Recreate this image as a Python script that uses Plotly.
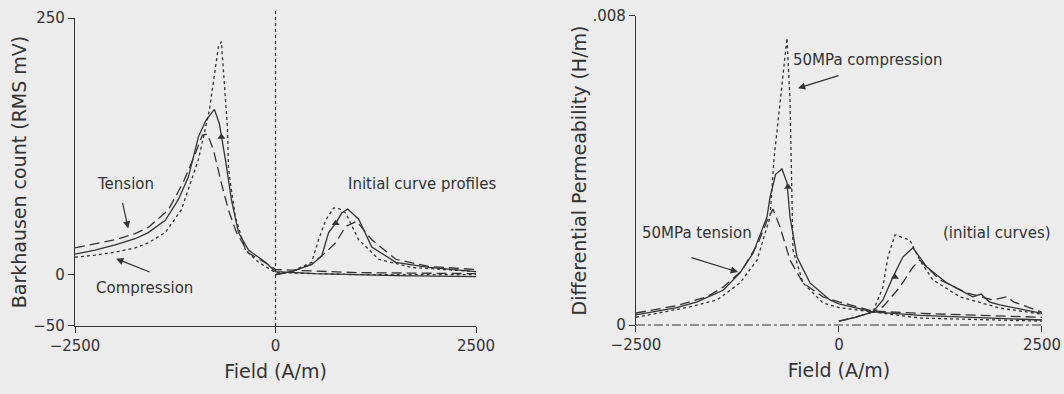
import plotly.graph_objects as go

# ---- left panel: Barkhausen count (RMS mV) vs field (A/m) ----
# main (descending) branches
bk_sol_x = [-2500, -2250, -2000, -1750, -1587, -1375, -1212, -1087, -962, -870, -762, -700, -625, -550, -462, -337, -125, 0, 500, 1000, 1500, 2500]
bk_sol_y = [20, 24, 29, 35, 41, 53, 73, 95, 134, 150, 161, 147, 112, 73, 41, 24, 12, 3, 1, 0, -1, -2]
bk_dsh_x = [-2500, -2250, -2000, -1750, -1587, -1337, -1150, -1000, -912, -850, -775, -675, -587, -487, -337, -50, 0, 1000, 2500]
bk_dsh_y = [26, 30, 34, 40, 46, 63, 90, 118, 136, 137, 122, 89, 63, 41, 21, 8, 5, 2, 1]
bk_dot_x = [-2500, -2250, -2000, -1750, -1587, -1375, -1175, -1000, -962, -825, -712, -675, -600, -587, -562, -500, -375, -212, 0, 1000, 2500]
bk_dot_y = [17, 19, 22, 26, 31, 41, 63, 105, 112, 160, 222, 227, 144, 105, 89, 56, 24, 12, 2, 0, 0]
# initial curves
bk_ini_sol_x = [0, 200, 450, 575, 662, 750, 825, 900, 1037, 1200, 1500, 1912, 2500]
bk_ini_sol_y = [0, 3, 10, 18, 41, 50, 60, 64, 54, 27, 12, 7, 3]
bk_ini_dsh_x = [0, 200, 450, 600, 750, 875, 1012, 1200, 1500, 1912, 2500]
bk_ini_dsh_y = [0, 3, 10, 20, 31, 47, 52, 34, 15, 8, 5]
bk_ini_dot_x = [0, 200, 450, 537, 625, 725, 800, 875, 1037, 1287, 1700, 2500]
bk_ini_dot_y = [0, 3, 12, 34, 53, 65, 64, 60, 34, 15, 7, 3]
bk_arrow_x = [-675, 750]
bk_arrow_y = [134, 50]

# ---- right panel: differential permeability (H/m) vs field (A/m) ----
mu_sol_x = [-2500, -2000, -1747, -1427, -1218, -1058, -886, -850, -780, -702, -640, -603, -517, -357, -111, 0, 418, 1000, 2500]
mu_sol_y = [0.00026, 0.00045, 0.0006, 0.0009, 0.00135, 0.00186, 0.0028, 0.0033, 0.0039, 0.00404, 0.00368, 0.0028, 0.00176, 0.00109, 0.00065, 0.00055, 0.00034, 0.00025, 0.00013]
mu_dsh_x = [-2500, -2000, -1624, -1427, -1200, -1000, -886, -812, -726, -603, -443, -197, 0, 418, 1000, 2500]
mu_dsh_y = [0.00031, 0.0005, 0.00073, 0.00098, 0.0014, 0.0021, 0.0027, 0.003, 0.00254, 0.00168, 0.00109, 0.00073, 0.0006, 0.00036, 0.0003, 0.0002]
mu_dot_x = [-2500, -1833, -1501, -1218, -1009, -849, -800, -726, -640, -603, -590, -575, -566, -443, -197, 0, 418, 1000, 2500]
mu_dot_y = [0.0002, 0.00047, 0.00065, 0.00109, 0.00168, 0.0028, 0.0043, 0.00583, 0.00743, 0.00583, 0.0042, 0.0028, 0.00194, 0.00109, 0.00057, 0.00045, 0.00034, 0.00018, 0.0001]
mu_ini_sol_x = [0, 200, 418, 541, 664, 787, 910, 1082, 1328, 1648, 1750, 1850, 1980, 2500]
mu_ini_sol_y = [0.0001, 0.0002, 0.00034, 0.00065, 0.00124, 0.00176, 0.002, 0.0015, 0.00109, 0.00073, 0.0008, 0.0006, 0.00052, 0.0003]
mu_ini_dsh_x = [0, 200, 418, 541, 750, 910, 996, 1242, 1574, 1894, 2066, 2150, 2500]
mu_ini_dsh_y = [0.0001, 0.0002, 0.00034, 0.00047, 0.00098, 0.0015, 0.00168, 0.00117, 0.00083, 0.00065, 0.00073, 0.0006, 0.00033]
mu_ini_dot_x = [0, 200, 418, 541, 603, 689, 873, 996, 1156, 1488, 1980, 2500]
mu_ini_dot_y = [0.0001, 0.0002, 0.00034, 0.00098, 0.00176, 0.00233, 0.0022, 0.00168, 0.00117, 0.00073, 0.00044, 0.00028]
mu_arrow_x = [-627, 689]
mu_arrow_y = [0.00357, 0.00124]

INK = "#333333"
BG = "#ececec"
FONT = "DejaVu Sans"

fig = go.Figure()


def curve(x, y, dash, xa, ya):
    fig.add_trace(go.Scatter(
        x=x, y=y, mode="lines", xaxis=xa, yaxis=ya,
        line=dict(color=INK, width=1.3, dash=dash),
        showlegend=False, hoverinfo="skip"))


# left panel curves
curve(bk_sol_x, bk_sol_y, "solid", "x", "y")
curve(bk_dsh_x, bk_dsh_y, "10px,5px", "x", "y")
curve(bk_dot_x, bk_dot_y, "dot", "x", "y")
curve(bk_ini_sol_x, bk_ini_sol_y, "solid", "x", "y")
curve(bk_ini_dsh_x, bk_ini_dsh_y, "10px,5px", "x", "y")
curve(bk_ini_dot_x, bk_ini_dot_y, "dot", "x", "y")
fig.add_trace(go.Scatter(x=bk_arrow_x, y=bk_arrow_y, mode="markers", xaxis="x", yaxis="y",
                         marker=dict(symbol="triangle-up", size=7, color=INK),
                         showlegend=False, hoverinfo="skip"))

# right panel curves
curve(mu_sol_x, mu_sol_y, "solid", "x2", "y2")
curve(mu_dsh_x, mu_dsh_y, "10px,5px", "x2", "y2")
curve(mu_dot_x, mu_dot_y, "dot", "x2", "y2")
curve(mu_ini_sol_x, mu_ini_sol_y, "solid", "x2", "y2")
curve(mu_ini_dsh_x, mu_ini_dsh_y, "10px,5px", "x2", "y2")
curve(mu_ini_dot_x, mu_ini_dot_y, "dot", "x2", "y2")
fig.add_trace(go.Scatter(x=mu_arrow_x, y=mu_arrow_y, mode="markers", xaxis="x2", yaxis="y2",
                         marker=dict(symbol="triangle-up", size=7, color=INK),
                         showlegend=False, hoverinfo="skip"))

# reference lines: dotted x=0 on the left, dash-dot y=0 on the right
fig.add_shape(type="line", xref="x", yref="y domain", x0=0, x1=0, y0=0, y1=1.027,
              line=dict(color=INK, width=1.2, dash="dot"))
fig.add_shape(type="line", xref="x2", yref="y2 domain", x0=-2500, x1=2500, y0=0, y1=0,
              line=dict(color=INK, width=1.2, dash="dashdot"))

axis_common = dict(showgrid=False, zeroline=False, ticks="outside", ticklen=6,
                   tickcolor=INK, tickwidth=1.2, linecolor=INK, linewidth=1.2,
                   automargin=False,
                   tickfont=dict(family=FONT, size=15, color=INK))

fig.update_layout(
    width=1064, height=394,
    margin=dict(l=0, r=0, t=0, b=0),
    paper_bgcolor=BG, plot_bgcolor=BG,
    font=dict(family=FONT, color=INK),
    xaxis=dict(domain=[0.0705, 0.4474], range=[-2500, 2500], tickvals=[-2500, 0, 2500],
               showline=True, anchor="y",
               title=dict(text="Field (A/m)", font=dict(size=19), standoff=10), **axis_common),
    yaxis=dict(domain=[0.1726, 0.9543], range=[-50, 250], tickvals=[-50, 0, 250],
               showline=True, anchor="x",
               title=dict(text="Barkhausen count (RMS mV)", font=dict(size=19), standoff=1), **axis_common),
    xaxis2=dict(domain=[0.5977, 0.9793], range=[-2500, 2500], tickvals=[-2500, 0, 2500],
                showline=False, anchor="y2",
                title=dict(text="Field (A/m)", font=dict(size=19), standoff=10), **axis_common),
    yaxis2=dict(domain=[0.1751, 0.9594], range=[0, 0.008], tickvals=[0, 0.008],
                ticktext=["0", ".008"], showline=True, anchor="x2",
                title=dict(text="Differential Permeability (H/m)", font=dict(size=19), standoff=0),
                **axis_common),
)

txt = dict(family=FONT, size=15, color=INK)
ann = [
    dict(x=-1875, y=88.5, xref="x", yref="y", text="Tension", showarrow=False, font=txt),
    dict(x=-1637, y=-12.6, xref="x", yref="y", text="Compression", showarrow=False, font=txt),
    dict(x=1825, y=88.5, xref="x", yref="y", text="Initial curve profiles", showarrow=False, font=txt),
    dict(x=-1837, y=45, xref="x", yref="y", text="", showarrow=True, ax=-6, ay=-27,
         arrowhead=2, arrowsize=1.2, arrowwidth=1.2, arrowcolor=INK),
    dict(x=-1987, y=15.6, xref="x", yref="y", text="", showarrow=True, ax=35, ay=14,
         arrowhead=2, arrowsize=1.2, arrowwidth=1.2, arrowcolor=INK),
    dict(x=357, y=0.00686, xref="x2", yref="y2", text="50MPa compression", showarrow=False, font=txt),
    dict(x=-1749, y=0.00238, xref="x2", yref="y2", text="50MPa tension", showarrow=False, font=txt),
    dict(x=1946, y=0.00238, xref="x2", yref="y2", text="(initial curves)", showarrow=False, font=txt),
    dict(x=-505, y=0.00613, xref="x2", yref="y2", text="", showarrow=True, ax=42, ay=-13,
         arrowhead=2, arrowsize=1.2, arrowwidth=1.2, arrowcolor=INK),
    dict(x=-1244, y=0.00137, xref="x2", yref="y2", text="", showarrow=True, ax=-48, ay=-15,
         arrowhead=2, arrowsize=1.2, arrowwidth=1.2, arrowcolor=INK),
]
fig.update_layout(annotations=ann)

# drop the browser's default page margin so the figure fills the window
fig.write_html("out.html", config={"displayModeBar": False},
               post_script="document.body.style.margin = '0';")
